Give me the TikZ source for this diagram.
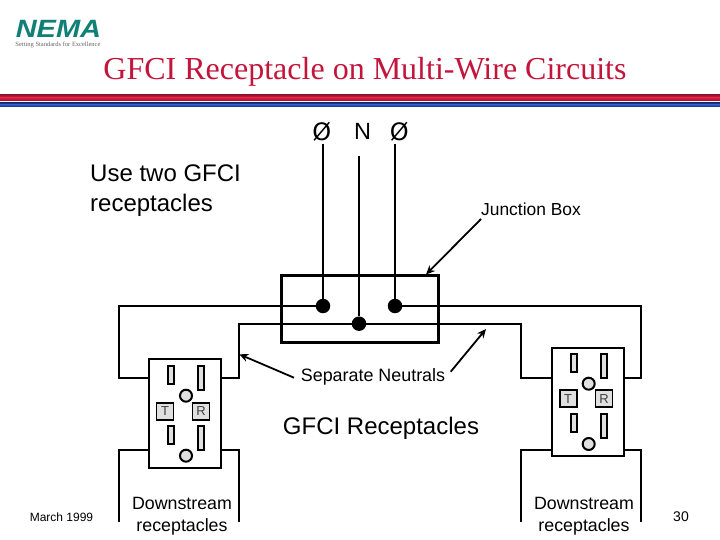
\documentclass[tikz,border=0pt]{standalone}
\usepackage{fontspec}
\setmainfont{Liberation Sans}
\newfontfamily\serifttl{Liberation Serif}
\newfontfamily\djv{DejaVu Sans}
\usetikzlibrary{arrows.meta}
\definecolor{ttl}{HTML}{C3153B}
\definecolor{teal1}{HTML}{0F7F78}
\definecolor{barred}{HTML}{E02040}
\definecolor{bardark}{HTML}{8E0F2E}
\definecolor{barblue}{HTML}{2F55C0}
\definecolor{bluedark}{HTML}{18307F}
\definecolor{part}{HTML}{E0E0E0}
\tikzset{
 wire/.style={line width=2pt,line join=miter,black},
 recept/.style={draw=black,line width=2pt,fill=white},
 slot/.style={draw=black,line width=2pt,fill=part},
 term/.style={draw=black,line width=1.6pt,fill=part,minimum size=17pt,inner sep=0pt,font=\fontsize{13}{13}\selectfont,text=black!75},
 dot/.style={circle,fill=black,minimum size=14.5pt,inner sep=0pt},
 screw/.style={circle,draw=black,line width=2pt,fill=part,minimum size=12pt,inner sep=0pt},
 ptr/.style={line width=1.8pt,-{Stealth[length=9pt,width=8pt]}},
 lbl/.style={inner sep=0pt,align=center,text=black},
}
\begin{document}
\begin{tikzpicture}[x=1pt,y=-1pt]
\useasboundingbox (0,0) rectangle (720,540);
% header
\node[lbl,text=teal1,font=\fontsize{25}{25}\selectfont\bfseries\itshape,xscale=1.16,transform shape] (logo) at (58.5,29) {NEMA};
\node[lbl,text=black!60,font=\serifttl\fontsize{6.5}{7}\selectfont] (tag) at (58,45) {Setting Standards for Excellence};
\node[lbl,text=ttl,font=\serifttl\fontsize{32}{33}\selectfont] (title) at (365,72) {GFCI Receptacle on Multi-Wire Circuits};
\shade[top color=bardark,bottom color=barred] (0,94.3) rectangle (720,97.6);
\shade[top color=barred,bottom color=bardark] (0,97.6) rectangle (720,101);
\shade[top color=bluedark,bottom color=barblue] (0,102.7) rectangle (720,104.7);
\shade[top color=barblue,bottom color=bluedark] (0,104.7) rectangle (720,106.7);
% labels
\node[lbl,font=\djv\fontsize{24}{24}\selectfont] (p1) at (321.7,131.5) {Ø};
\node[lbl,font=\fontsize{23.5}{24}\selectfont] (nn) at (362.7,131.5) {N};
\node[lbl,font=\djv\fontsize{24}{24}\selectfont] (p2) at (399.3,131.5) {Ø};
\node[lbl,align=left,anchor=north west,font=\fontsize{24}{29.5}\selectfont] (use) at (90,165) {Use two GFCI\\receptacles};
\node[lbl,font=\fontsize{17.4}{18}\selectfont] (jb) at (531,209.5) {Junction Box};
\node[lbl,font=\fontsize{17.9}{18}\selectfont] (sn) at (373,376.5) {Separate Neutrals};
\node[lbl,font=\fontsize{24}{24}\selectfont] (gr) at (381,428) {GFCI Receptacles};
\node[lbl,font=\fontsize{17.8}{22}\selectfont] (d1) at (182,516.5) {Downstream\\receptacles};
\node[lbl,font=\fontsize{17.8}{22}\selectfont] (d2) at (584,516.5) {Downstream\\receptacles};
\node[lbl,font=\fontsize{12}{12}\selectfont] (date) at (61.5,517.5) {March 1999};
\node[lbl,font=\fontsize{14}{14}\selectfont] (pg) at (681,517) {30};
% junction box
\node[draw=black,line width=3pt,minimum width=157pt,minimum height=67pt,inner sep=0pt] (jbox) at (359.5,308.5) {};
\coordinate (w1) at (323,144);
\coordinate (w2) at (359,156);
\coordinate (w3) at (395,144);
\node[dot] (d-a) at (323,306) {};
\node[dot] (d-b) at (359,323.7) {};
\node[dot] (d-c) at (395,306) {};
\draw[wire] (w1) -- (d-a);
\draw[wire] (w2) -- (d-b);
\draw[wire] (w3) -- (d-c);
% left receptacle
\draw[recept] (148.7,359.3) rectangle (221,467.7);
\node (lL) at (148.7,377.7) [inner sep=0pt] {};
\node (lR) at (221,377.7) [inner sep=0pt] {};
\node (lLd) at (148.7,450) [inner sep=0pt] {};
\node (lRd) at (221,450) [inner sep=0pt] {};
\draw[slot] (168,366) rectangle (174,384);
\draw[slot] (198,366) rectangle (204.3,390);
\draw[slot] (168,426) rectangle (174,444);
\draw[slot] (198,426) rectangle (204.3,450);
\node[screw] (ls1) at (186,395.7) {};
\node[screw] (ls2) at (186,455.7) {};
\node[term] (lT) at (165,411.3) {T};
\node[term] (lRr) at (201,411.3) {R};
% right receptacle
\draw[recept] (551.7,347.7) rectangle (624,455.7);
\node (rL) at (551.7,377.7) [inner sep=0pt] {};
\node (rR) at (624,377.7) [inner sep=0pt] {};
\node (rLd) at (551.7,449.7) [inner sep=0pt] {};
\node (rRd) at (624,449.7) [inner sep=0pt] {};
\draw[slot] (571,354) rectangle (577.3,372.3);
\draw[slot] (601,354) rectangle (607.3,378.3);
\draw[slot] (571,414) rectangle (577.3,432);
\draw[slot] (601,414) rectangle (607.3,438);
\node[screw] (rs1) at (588.7,383.7) {};
\node[screw] (rs2) at (588.7,444) {};
\node[term] (rT) at (568.2,398.7) {T};
\node[term] (rRr) at (604,398.7) {R};
% wiring
\draw[wire] (d-a.center) -- (118.7,306) -- (118.7,377.7) -- (lL.center);
\draw[wire] (d-b.center) -- (238.7,323.7) -- (238.7,377.7) -- (lR.center);
\draw[wire] (d-c.center) -- (640.7,306) -- (640.7,377.7) -- (rR.center);
\draw[wire] (d-b.center) -- (521,323.7) -- (521,377.7) -- (rL.center);
\coordinate (e1) at (118.7,521.7);
\coordinate (e2) at (238.7,521.7);
\coordinate (e3) at (521,521.7);
\coordinate (e4) at (640.7,521.7);
\draw[wire] (lLd.center) -- (118.7,450) -- (e1);
\draw[wire] (lRd.center) -- (238.7,450) -- (e2);
\draw[wire] (rLd.center) -- (521,449.7) -- (e3);
\draw[wire] (rRd.center) -- (640.7,449.7) -- (e4);
% pointers
\coordinate (t1) at (481,219);
\coordinate (t2) at (294,377.7);
\coordinate (t3) at (450.7,371.7);
\coordinate (ajb) at (426,274.5);
\coordinate (an1) at (239.3,354.3);
\coordinate (an2) at (486,329);
\draw[ptr] (t1) -- (ajb);
\draw[ptr] (t2) -- (an1);
\draw[ptr] (t3) -- (an2);
\end{tikzpicture}
\end{document}
